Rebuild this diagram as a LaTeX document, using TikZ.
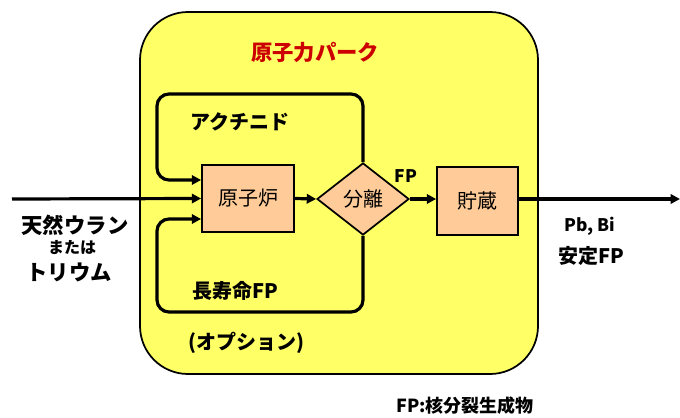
\documentclass[tikz,border=0pt]{standalone}
\usepackage{fontspec}
\setmainfont{Noto Sans CJK JP}
\usetikzlibrary{shapes.geometric,arrows.meta}
\definecolor{parkyellow}{HTML}{FFFF66}
\definecolor{boxfill}{HTML}{FFCC99}
\definecolor{titlered}{HTML}{CC0000}
\tikzset{
  procbox/.style={draw=black, line width=1.3pt, fill=boxfill, inner sep=0pt, font=\fontsize{15}{18}\selectfont},
  flow/.style={line width=2.4pt, -{Triangle[length=7pt,width=7pt]}},
  loopline/.style={line width=2.4pt, rounded corners=9pt, -{Triangle[length=7pt,width=7pt]}},
  lbl/.style={font=\fontsize{15}{18}\selectfont\bfseries, inner sep=0pt},
  srclbl/.style={font=\fontsize{16}{19}\selectfont\bfseries, inner sep=0pt},
}
\begin{document}
\begin{tikzpicture}[x=0.75pt,y=-0.75pt]
\useasboundingbox (0,0) rectangle (680,417);
% park
\node[draw=black, line width=1.3pt, fill=parkyellow, rounded corners=36pt, minimum width=398*0.75pt, minimum height=362*0.75pt, inner sep=0pt] (park) at (339,193) {};
\node[lbl, text=titlered, font=\fontsize{16}{19}\selectfont\bfseries] (title) at (315,52) {原子力パーク};
% boxes
\node[procbox, minimum width=92*0.75pt, minimum height=67*0.75pt] (reactor) at (248,198.5) {原子炉};
\node[procbox, diamond, aspect=1.28, minimum width=92*0.75pt, minimum height=72*0.75pt] (sep) at (363,199) {分離};
\node[procbox, minimum width=81*0.75pt, minimum height=68*0.75pt] (store) at (477.5,201) {貯蔵};
% coordinates
\coordinate (in) at (12,199);
\coordinate (out) at (680,199);
\coordinate (t1) at (363,94);
\coordinate (t2) at (157,94);
\coordinate (t3) at (157,180);
\coordinate (b1) at (363,312);
\coordinate (b2) at (157,312);
\coordinate (b3) at (157,219);
% flows
\draw[flow] (in) -- (reactor.west);
\draw[flow] (reactor.east) -- (sep.west);
\draw[flow] (sep.east) -- (sep.east -| store.west);
\draw[flow] (sep.east -| store.east) -- (out);
\draw[loopline] (sep.north) -- (t1) -- (t2) -- (t3) -- (t3 -| reactor.west);
\draw[loopline] (sep.south) -- (b1) -- (b2) -- (b3) -- (b3 -| reactor.west);
% labels
\node[lbl] (act) at (240,122) {アクチニド};
\node[lbl] (lfp) at (235,291) {長寿命FP};
\node[lbl] (opt) at (246,343) {(オプション)};
\node[lbl, font=\fontsize{13}{15}\selectfont\bfseries] (fp) at (406,176) {FP};
\node[srclbl] (src1) at (75,225) {天然ウラン};
\node[lbl, font=\fontsize{12}{14}\selectfont\bfseries] (src2) at (72,248) {または};
\node[srclbl] (src3) at (69,272) {トリウム};
\node[lbl, font=\fontsize{13}{15}\selectfont\bfseries] (pb) at (590,226) {Pb, Bi};
\node[lbl] (sfp) at (591,256) {安定FP};
\node[lbl, font=\fontsize{13.5}{16}\selectfont\bfseries] (note) at (465,406) {FP:核分裂生成物};
\end{tikzpicture}
\end{document}
